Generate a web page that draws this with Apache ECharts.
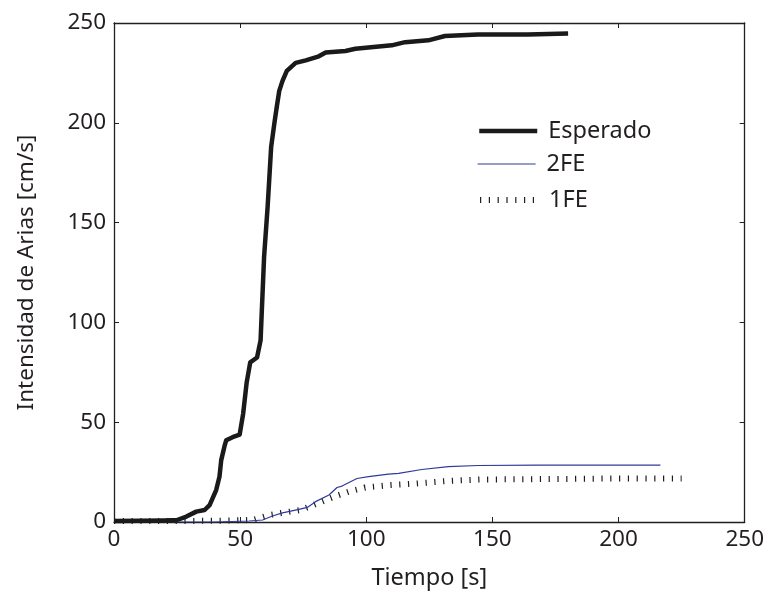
<!DOCTYPE html>
<html>
<head>
<meta charset="utf-8">
<script src="https://cdn.jsdelivr.net/npm/echarts@6/dist/echarts.min.js"></script>
<style>html,body{margin:0;padding:0;background:#fff;}#c{width:767px;height:595px;}</style>
</head>
<body>
<div id="c"></div>
<script>
// Tiempo [s] / Intensidad de Arias [cm/s]
const xTicks = [0, 50, 100, 150, 200, 250];
const yTicks = [0, 50, 100, 150, 200, 250];

const esperadoT = [0,10,20,25,28.7,32.6,35.9,37.9,40.5,41.8,42.5,43.8,44.5,47,49.8,51.2,52.6,54,56.7,58.1,58.8,59.5,60.9,62.3,63.6,64.4,65.5,66.8,68.5,72,76,81.2,83.9,91.7,95.7,110.1,115.4,124.6,131.2,144.3,164,180];
const esperadoV = [0.5,0.6,0.8,1,2.7,5.2,6,8.5,16,22.7,31,38,41,42.5,43.8,54.3,70,80,82.4,91,112,133,158,188,200,207,216,221,226,230,231.3,233.3,235.2,236,237.1,238.8,240.4,241.3,243.5,244.2,244.3,244.8];

const fe2T = [0,20,40,53.6,58.9,62.8,66.8,73.3,76.6,79.9,85.2,88.4,90.4,96.3,100.9,108.8,112.8,122,132.5,144.3,168,216.6];
const fe2V = [0,0,0,0.5,1,3,4.6,6.3,7.3,10.2,13.5,17.3,18,21.8,22.7,24,24.4,26.3,27.7,28.3,28.5,28.5];

const fe1T = [0,20,40,55,61.5,66.8,74,80.6,83.9,89.1,93.1,99.6,109.5,120,132.5,145,170,200,225];
const fe1V = [0.5,0.5,0.6,1,3.5,4.6,6,9.3,11,13.5,15.2,17.3,18.5,19.3,20.6,21.3,21.5,21.8,21.8];

const seriesNames = ['Esperado', '2FE', '1FE'];

function pairs(t, v) { return t.map((x, i) => [x, v[i]]); }

const FONT = 'Noto Sans';
const TXT = '#231f20';
const chart = echarts.init(document.getElementById('c'), null, {renderer: 'canvas'});

const styles = {
  'Esperado': {color: '#1a1a1a', width: 4.5, type: 'solid', cap: 'butt', join: 'round'},
  '2FE': {color: '#2e3a99', width: 1.2, type: 'solid', cap: 'butt'},
  '1FE': {color: '#1e1e1e', width: 6, type: [1.2, 7.6], cap: 'butt'}
};

function legendAt(name, top) {
  return {
    data: [name],
    left: 477,
    top: top,
    padding: 0,
    orient: 'vertical',
    itemWidth: 58,
    itemHeight: 24,
    selectedMode: false,
    itemStyle: {opacity: 0},
    lineStyle: Object.assign({}, styles[name], {opacity: 1}),
    textStyle: {fontFamily: FONT, fontSize: 23.5, color: TXT, padding: [0, 0, 0, 6], lineHeight: 24}
  };
}

chart.setOption({
  animation: false,
  backgroundColor: '#fff',
  grid: {left: 114, right: 19, top: 23, bottom: 73, containLabel: false},
  legend: [legendAt(seriesNames[0], 119), legendAt(seriesNames[1], 152), legendAt(seriesNames[2], 188)],
  xAxis: [{
    type: 'value', min: xTicks[0], max: xTicks[xTicks.length - 1], interval: 50,
    position: 'bottom',
    name: 'Tiempo [s]', nameLocation: 'middle', nameGap: 44,
    nameTextStyle: {fontFamily: FONT, fontSize: 23.5, color: TXT},
    axisLine: {show: true, onZero: false, lineStyle: {color: '#231f20', width: 1.3}},
    axisTick: {show: true, inside: true, length: 5, lineStyle: {color: '#231f20'}},
    axisLabel: {show: true, fontFamily: FONT, fontSize: 22.5, color: TXT, margin: 6},
    splitLine: {show: false}
  }, {
    type: 'value', min: xTicks[0], max: xTicks[xTicks.length - 1], interval: 50,
    position: 'top',
    axisLine: {show: true, onZero: false, lineStyle: {color: '#231f20', width: 1.3}},
    axisTick: {show: true, inside: true, length: 5, lineStyle: {color: '#231f20'}},
    axisLabel: {show: false},
    splitLine: {show: false}
  }],
  yAxis: [{
    type: 'value', min: yTicks[0], max: yTicks[yTicks.length - 1], interval: 50,
    position: 'left',
    name: 'Intensidad de Arias [cm/s]', nameLocation: 'middle', nameGap: 76,
    nameTextStyle: {fontFamily: FONT, fontSize: 22.5, color: TXT},
    axisLine: {show: true, onZero: false, lineStyle: {color: '#231f20', width: 1.3}},
    axisTick: {show: true, inside: true, length: 5, lineStyle: {color: '#231f20'}},
    axisLabel: {show: true, fontFamily: FONT, fontSize: 22.5, color: TXT, margin: 8},
    splitLine: {show: false}
  }, {
    type: 'value', min: yTicks[0], max: yTicks[yTicks.length - 1], interval: 50,
    position: 'right',
    axisLine: {show: true, onZero: false, lineStyle: {color: '#231f20', width: 1.3}},
    axisTick: {show: true, inside: true, length: 5, lineStyle: {color: '#231f20'}},
    axisLabel: {show: false},
    splitLine: {show: false}
  }],
  series: [{
    name: seriesNames[2], type: 'line', xAxisIndex: 0, yAxisIndex: 0,
    data: pairs(fe1T, fe1V), showSymbol: false, symbol: 'none',
    lineStyle: styles['1FE'],
    itemStyle: {color: '#1e1e1e'}, z: 2
  }, {
    name: seriesNames[1], type: 'line', xAxisIndex: 0, yAxisIndex: 0,
    data: pairs(fe2T, fe2V), showSymbol: false, symbol: 'none',
    lineStyle: styles['2FE'],
    itemStyle: {color: '#2e3a99'}, z: 3
  }, {
    name: seriesNames[0], type: 'line', xAxisIndex: 0, yAxisIndex: 0,
    data: pairs(esperadoT, esperadoV), showSymbol: false, symbol: 'none',
    lineStyle: styles['Esperado'],
    itemStyle: {color: '#1a1a1a'}, z: 4
  }]
});
</script>
</body>
</html>
